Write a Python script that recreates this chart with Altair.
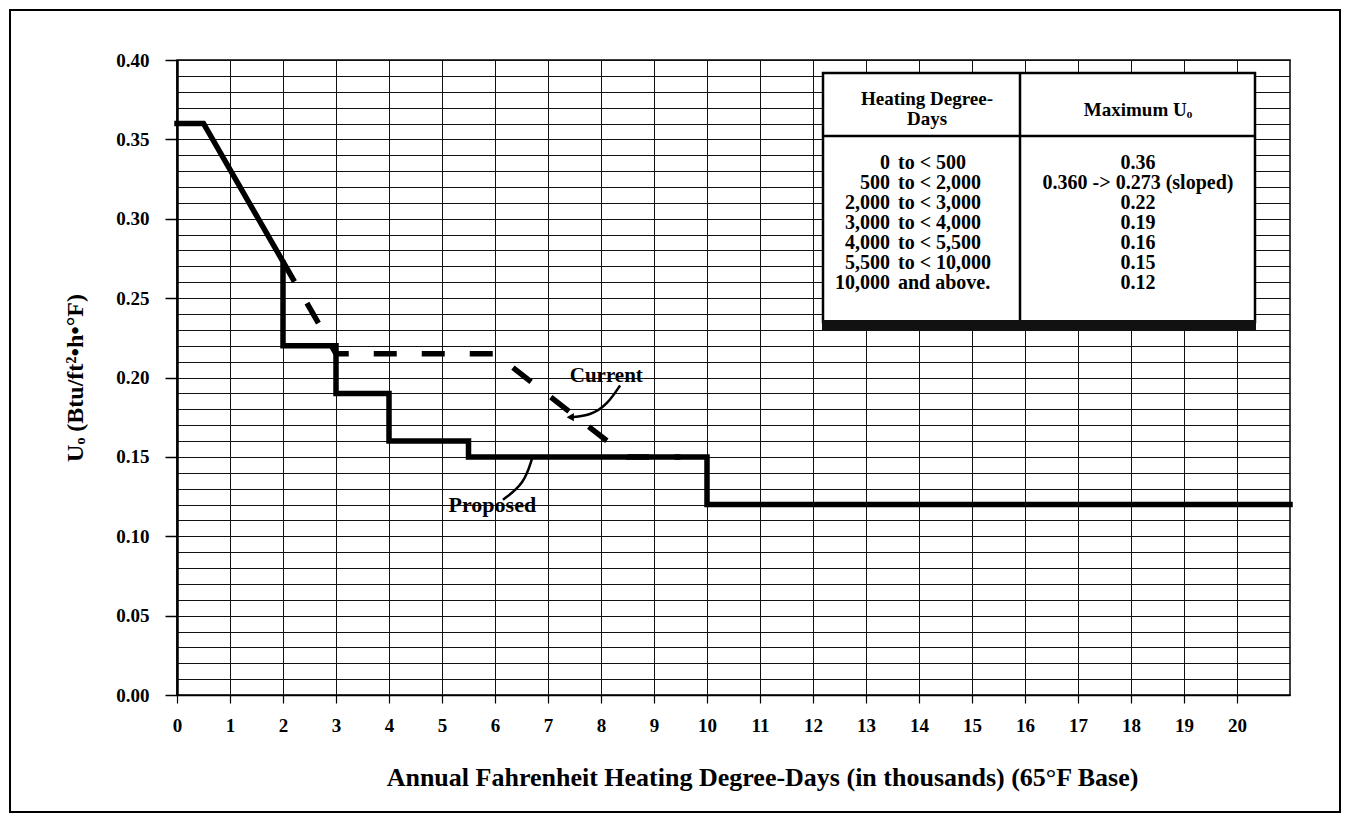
import altair as alt
import pandas as pd

# ---------------- data ----------------
proposed_x = [0.0, 0.5, 2.0, 2.0, 3.0, 3.0, 4.0, 4.0, 5.5, 5.5, 10.0, 10.0, 21.0]
proposed_u = [0.36, 0.36, 0.273, 0.22, 0.22, 0.19, 0.19, 0.16, 0.16, 0.15, 0.15, 0.12, 0.12]

current_x = [2.0, 3.0, 6.0, 8.5, 9.5]
current_u = [0.273, 0.215, 0.215, 0.15, 0.15]

label_text = ["Current", "Proposed"]
label_x = [8.1, 5.95]
label_u = [0.201, 0.120]

cur_arrow_x = [8.36, 8.12, 7.80, 7.42]
cur_arrow_u = [0.195, 0.183, 0.176, 0.175]
prop_arrow_x = [6.15, 6.55, 6.70]
prop_arrow_u = [0.123, 0.133, 0.149]

table_hdd_from = ["0", "500", "2,000", "3,000", "4,000", "5,500", "10,000"]
table_hdd_to = ["to < 500", "to < 2,000", "to < 3,000", "to < 4,000", "to < 5,500", "to < 10,000", "and above."]
table_max_u = ["0.36", "0.360 -> 0.273 (sloped)", "0.22", "0.19", "0.16", "0.15", "0.12"]
table_head_left = ["Heating Degree-", "Days"]
table_head_right = "Maximum U\u2092"

x_tick_values = list(range(0, 21))
y_grid_values = [round(i * 0.01, 2) for i in range(41)]

x_title = "Annual Fahrenheit Heating Degree-Days (in thousands) (65\u00b0F Base)"
y_title = "U\u2092 (Btu/ft\u00b2\u2022h\u2022\u00b0F)"

# ---------------- styling ----------------
SERIF = "Liberation Serif, Times New Roman, DejaVu Serif, serif"
W, H = 1113, 635
xs = alt.Scale(domain=[0, 21], nice=False, zero=False)
ys = alt.Scale(domain=[0, 0.40], nice=False, zero=False)

x_axis = alt.Axis(
    values=x_tick_values, format="d", grid=True, gridColor="#111111", gridWidth=1,
    domainColor="black", domainWidth=1.5, tickColor="black", tickSize=8, tickWidth=1.2,
    labelFont=SERIF, labelFontWeight="bold", labelFontSize=19, labelColor="black",
    labelPadding=13, labelFlush=False,
    titleFont=SERIF, titleFontWeight="bold", titleFontSize=26, titleColor="black",
    titleX=585, titleY=82, titleBaseline="middle", titleAlign="center",
)
y_axis = alt.Axis(
    values=y_grid_values, grid=True, gridColor="#111111", gridWidth=1,
    labelExpr="round(datum.value*100) % 5 === 0 ? format(datum.value, '.2f') : ''",
    domainColor="black", domainWidth=2.5,
    tickColor={"condition": {"test": "round(datum.value*100) % 5 === 0", "value": "black"},
               "value": "transparent"},
    tickSize=12, tickWidth=1.5,
    labelFont=SERIF, labelFontWeight="bold", labelFontSize=19, labelColor="black",
    labelPadding=16, labelFlush=False,
    titleFont=SERIF, titleFontWeight="bold", titleFontSize=24, titleColor="black",
    titleX=-102, titleY=H / 2, titleBaseline="middle", titleAlign="center", titleAngle=270,
)

# ---------------- data frames ----------------
prop_df = pd.DataFrame({"x": proposed_x, "u": proposed_u, "i": range(len(proposed_x))})
cur_df = pd.DataFrame({"x": current_x, "u": current_u, "i": range(len(current_x))})
lab_df = pd.DataFrame({"x": label_x, "u": label_u, "t": label_text})
carrow_df = pd.DataFrame({"x": cur_arrow_x, "u": cur_arrow_u, "i": range(len(cur_arrow_x))})
parrow_df = pd.DataFrame({"x": prop_arrow_x, "u": prop_arrow_u, "i": range(len(prop_arrow_x))})
chead_df = pd.DataFrame({"x": cur_arrow_x[-1:], "u": cur_arrow_u[-1:]})
one = pd.DataFrame({"k": [0]})

X = alt.X("x:Q", scale=xs, axis=x_axis, title=x_title)
Y = alt.Y("u:Q", scale=ys, axis=y_axis, title=y_title)

proposed = alt.Chart(prop_df).mark_line(
    color="black", strokeWidth=5.5, strokeJoin="miter", strokeCap="square"
).encode(x=X, y=Y, order="i:Q")

current = alt.Chart(cur_df).mark_line(
    color="black", strokeWidth=5.5, strokeDash=[23, 25], strokeCap="butt"
).encode(x=X, y=Y, order="i:Q")

lab_cur = alt.Chart(lab_df).transform_filter("datum.t == 'Current'").mark_text(
    font=SERIF, fontWeight="bold", fontSize=21, color="black", baseline="middle", align="center"
).encode(x=X, y=Y, text="t:N")
lab_prop = alt.Chart(lab_df).transform_filter("datum.t == 'Proposed'").mark_text(
    font=SERIF, fontWeight="bold", fontSize=22, color="black", baseline="middle", align="center"
).encode(x=X, y=Y, text="t:N")

carrow = alt.Chart(carrow_df).mark_line(
    color="black", strokeWidth=2.5, interpolate="basis"
).encode(x=X, y=Y, order="i:Q")
carrow_head = alt.Chart(chead_df).mark_point(
    shape="triangle-left", filled=True, color="black", size=70, opacity=1
).encode(x=X, y=Y)
parrow = alt.Chart(parrow_df).mark_line(
    color="black", strokeWidth=2.5, interpolate="basis"
).encode(x=X, y=Y, order="i:Q")

# ---------------- table (pixel layout inside plot) ----------------
T_L, T_R, T_T, T_B, T_DIV, T_HS = 646, 1078, 13, 262, 843, 76
box = alt.Chart(one).mark_rect(fill="white", stroke="black", strokeWidth=2.5).encode(
    x=alt.value(T_L), x2=alt.value(T_R), y=alt.value(T_T), y2=alt.value(T_B))
bar = alt.Chart(one).mark_rect(fill="#111111").encode(
    x=alt.value(T_L - 1), x2=alt.value(T_R + 1), y=alt.value(T_B - 2), y2=alt.value(T_B + 8))
divider = alt.Chart(one).mark_rule(color="black", strokeWidth=2.5).encode(
    x=alt.value(T_DIV), y=alt.value(T_T), y2=alt.value(T_B))
hsep = alt.Chart(one).mark_rule(color="black", strokeWidth=2.5).encode(
    x=alt.value(T_L), x2=alt.value(T_R), y=alt.value(T_HS))

txt = dict(font=SERIF, fontWeight="bold", color="black", lineBreak="\n", baseline="middle")
head_l = alt.Chart(one).mark_text(align="center", lineHeight=20, fontSize=19, **txt).encode(
    x=alt.value(750), y=alt.value(39), text=alt.value("\n".join(table_head_left)))
head_r = alt.Chart(one).mark_text(align="center", lineHeight=20, fontSize=19, **txt).encode(
    x=alt.value(961), y=alt.value(50), text=alt.value(table_head_right))
col_from = alt.Chart(one).mark_text(align="right", lineHeight=20, fontSize=20, **txt).encode(
    x=alt.value(713), y=alt.value(103), text=alt.value("\n".join(table_hdd_from)))
col_to = alt.Chart(one).mark_text(align="left", lineHeight=20, fontSize=20, **txt).encode(
    x=alt.value(721), y=alt.value(103), text=alt.value("\n".join(table_hdd_to)))
col_u = alt.Chart(one).mark_text(align="center", lineHeight=20, fontSize=20, **txt).encode(
    x=alt.value(961), y=alt.value(103), text=alt.value("\n".join(table_max_u)))

frame = alt.Chart(one).mark_rect(fillOpacity=0, stroke="black", strokeWidth=2).encode(
    x=alt.value(-167), x2=alt.value(1163), y=alt.value(-50), y2=alt.value(752))

chart = alt.layer(
    proposed, current, carrow, carrow_head, parrow, lab_cur, lab_prop,
    box, divider, hsep, bar, head_l, head_r, col_from, col_to, col_u, frame,
).properties(
    width=W, height=H,
    autosize=alt.AutoSizeParams(type="none"),
    padding={"left": 169, "top": 52, "right": 52, "bottom": 120},
    background="white",
).configure_view(stroke="black", strokeWidth=1.5)

chart.save("out.html", embed_options={"renderer": "svg", "actions": False})
